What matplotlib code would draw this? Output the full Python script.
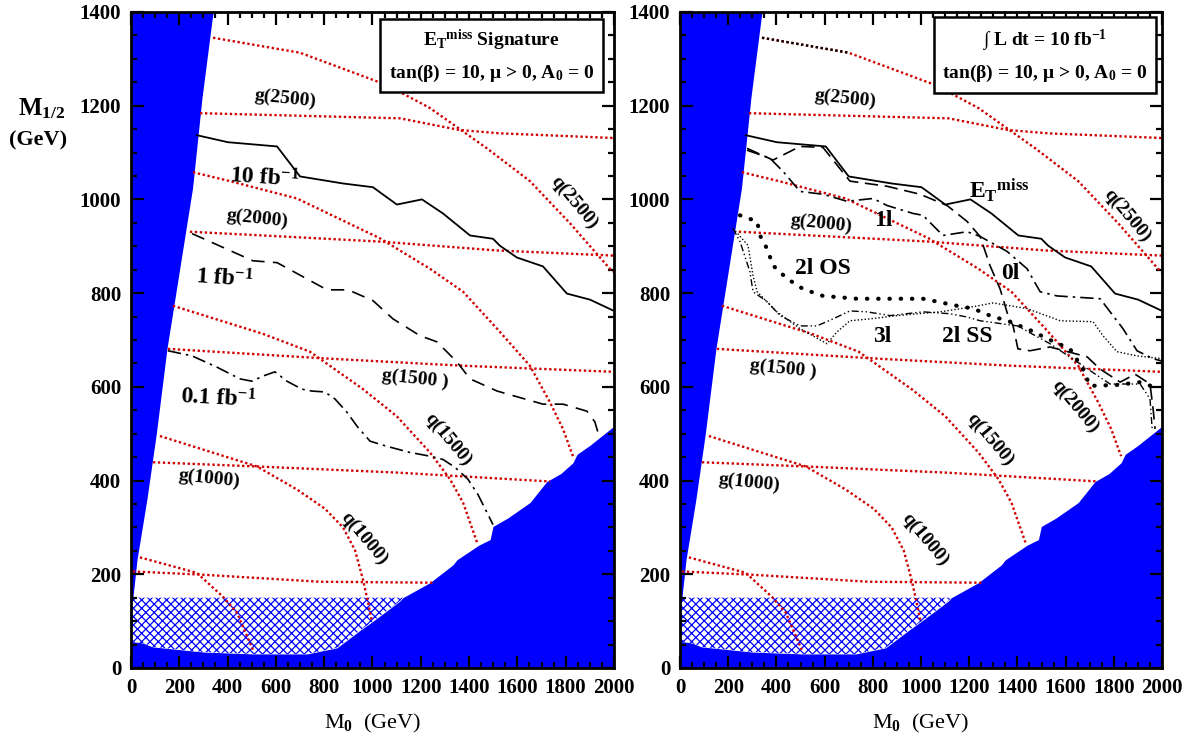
import matplotlib
matplotlib.use('Agg')
import matplotlib.pyplot as plt
from matplotlib.ticker import MultipleLocator

plt.rcParams['font.family'] = ['Liberation Serif', 'DejaVu Serif']
plt.rcParams['font.weight'] = 'bold'
plt.rcParams['mathtext.fontset'] = 'custom'
plt.rcParams['mathtext.rm'] = 'Liberation Serif:bold'
plt.rcParams['mathtext.it'] = 'Liberation Serif:bold:italic'
plt.rcParams['mathtext.bf'] = 'Liberation Serif:bold'
plt.rcParams['mathtext.default'] = 'rm'
plt.rcParams['hatch.linewidth'] = 0.9
plt.rcParams['hatch.color'] = '#0000ff'

BLUE = '#0000ff'
RED = '#d00000'

# excluded region on the left (theory), as M0 vs M1/2
wedge_m12 = [0, 50, 90, 150, 231, 360, 500, 681, 1024, 1216, 1400]
wedge_m0 = [45, 45, 12, 8, 25, 66, 105, 149, 255, 294, 340]

# lower boundary of the allowed region (hatch bottom + right excluded region)
low_m0 = [0, 50, 90, 300, 505, 730, 853, 948, 1000, 1114, 1126, 1238, 1333, 1350,
          1440, 1487, 1499, 1560, 1652, 1722, 1780, 1830, 1847, 1900, 2000]
low_m12 = [55, 53, 45, 34, 30, 30, 43, 80, 99, 143, 150, 182, 220, 231,
           262, 274, 302, 320, 353, 398, 415, 438, 456, 475, 516]
lep_m12 = 150

# squark / gluino mass contours
q500_m0 = [37, 273, 381, 439, 505]
q500_m12 = [236, 203, 152, 118, 39]
q1000_m0 = [120, 522, 687, 803, 878, 928, 961, 982, 998]
q1000_m12 = [495, 430, 381, 340, 300, 251, 188, 139, 98]
q1500_m0 = [174, 547, 741, 961, 1101, 1238, 1321, 1375, 1433]
q1500_m12 = [773, 713, 675, 595, 537, 460, 403, 353, 268]
q2000_m0 = [257, 410, 687, 1031, 1238, 1375, 1516, 1652, 1735, 1789, 1830]
q2000_m12 = [1058, 1039, 1002, 917, 852, 803, 724, 645, 567, 510, 452]
q2500_m0 = [340, 700, 1060, 1238, 1474, 1652, 1818, 1983, 2000]
q2500_m12 = [1345, 1313, 1244, 1195, 1109, 1039, 949, 852, 845]

g500_m0 = [8, 298, 783, 1250]
g500_m12 = [206, 199, 184, 182]
g1000_m0 = [91, 522, 1101, 1735]
g1000_m12 = [439, 430, 417, 398]
g1500_m0 = [153, 824, 1375, 2000]
g1500_m12 = [681, 660, 645, 632]
g2000_m0 = [244, 547, 1031, 1516, 2000]
g2000_m12 = [931, 923, 910, 891, 880]
g2500_m0 = [286, 1114, 1362, 1528, 2000]
g2500_m12 = [1184, 1173, 1148, 1141, 1131]

# left panel: E_T^miss reach for 10, 1, 0.1 fb^-1
r10_m0 = [273, 402, 605, 700, 878, 1002, 1101, 1205, 1292, 1404, 1499, 1528, 1598,
          1706, 1805, 1901, 2000]
r10_m12 = [1137, 1122, 1113, 1049, 1034, 1026, 989, 1000, 970, 923, 916, 901, 876,
           857, 799, 786, 762]
r1_m0 = [253, 505, 605, 812, 899, 1002, 1085, 1197, 1267, 1350, 1404, 1516, 1706,
         1789, 1888, 1921, 1942]
r1_m12 = [927, 869, 865, 807, 807, 784, 745, 709, 696, 653, 617, 591, 563,
          563, 548, 525, 488]
r01_m0 = [153, 253, 356, 451, 501, 547, 596, 646, 708, 749, 803, 845, 894, 936, 990,
          1060, 1155, 1238, 1292, 1342, 1395, 1437, 1499]
r01_m12 = [677, 666, 642, 617, 612, 623, 632, 612, 595, 591, 589, 574, 546, 516, 484,
           473, 460, 452, 445, 428, 403, 370, 306]

# right panel: reach by channel at 10 fb^-1
c0l_m0 = [278, 386, 498, 593, 705, 859, 996, 1108, 1191, 1245, 1286, 1328, 1361, 1382,
          1402, 1452, 1535, 1689, 1743, 1826, 1888, 1950, 1963, 1971]
c0l_m12 = [1109, 1084, 1113, 1111, 1039, 1028, 1011, 987, 953, 921, 859, 809, 752, 730,
           681, 677, 685, 664, 638, 610, 627, 606, 552, 510]
c1l_m0 = [278, 373, 427, 498, 593, 693, 801, 859, 967, 1008, 1091, 1191, 1245, 1357,
          1440, 1494, 1564, 1743, 1838, 1896, 1963, 2000]
c1l_m12 = [1105, 1088, 1060, 1017, 1011, 996, 1002, 987, 970, 966, 923, 931, 921, 889,
           852, 803, 794, 788, 724, 677, 660, 655]
os_m0 = [249, 320, 332, 361, 386, 444, 510, 593, 734, 871, 1008, 1149, 1216, 1286,
         1369, 1461, 1527, 1618, 1672, 1701, 1813, 1909, 1992]
os_m12 = [966, 953, 923, 895, 859, 831, 809, 794, 788, 788, 788, 773, 767, 752,
          739, 719, 702, 681, 638, 602, 604, 610, 595]
ss_m0 = [220, 282, 303, 320, 402, 498, 610, 651, 705, 788, 900, 1079, 1216, 1299,
         1440, 1577, 1714, 1755, 1813, 1896, 2000]
ss_m12 = [938, 902, 837, 803, 760, 724, 692, 717, 741, 745, 752, 760, 771, 779,
          767, 741, 739, 709, 675, 666, 660]
c3l_m0 = [220, 249, 290, 303, 361, 415, 498, 568, 635, 705, 776, 871, 1008, 1120,
          1191, 1245, 1400, 1535, 1660, 1784, 1909, 1950, 1959]
c3l_m12 = [938, 910, 846, 803, 782, 752, 730, 730, 745, 762, 760, 752, 760, 756,
           749, 741, 730, 692, 649, 606, 606, 574, 510]

fig = plt.figure(figsize=(11.98, 7.48), dpi=100)
ax1 = fig.add_axes([0.1093, 0.107, 0.4032, 0.877])
ax2 = fig.add_axes([0.5676, 0.107, 0.4024, 0.877])

dot = (0, (1, 1.1))


def draw_base(ax):
    ax.fill_between(low_m0, 0, low_m12, color=BLUE, lw=0, zorder=1)
    ax.fill_betweenx(wedge_m12, 0, wedge_m0, color=BLUE, lw=0, zorder=1)
    k = low_m12.index(lep_m12) + 1
    hx = low_m0[:k] + [0]
    hy = low_m12[:k] + [lep_m12]
    ax.fill(hx, hy, facecolor='white', edgecolor=BLUE, hatch='xxxx', lw=0, zorder=1)

    for xs, ys in [(q500_m0, q500_m12), (q1000_m0, q1000_m12), (q1500_m0, q1500_m12),
                   (q2000_m0, q2000_m12), (q2500_m0, q2500_m12),
                   (g500_m0, g500_m12), (g1000_m0, g1000_m12), (g1500_m0, g1500_m12),
                   (g2000_m0, g2000_m12), (g2500_m0, g2500_m12)]:
        ax.plot(xs, ys, color=RED, ls=dot, lw=1.7, zorder=2)

    ax.set_xlim(0, 2000)
    ax.set_ylim(0, 1400)
    ax.xaxis.set_major_locator(MultipleLocator(200))
    ax.xaxis.set_minor_locator(MultipleLocator(50))
    ax.yaxis.set_major_locator(MultipleLocator(200))
    ax.yaxis.set_minor_locator(MultipleLocator(50))
    ax.tick_params(which='both', direction='in', top=True, right=True, width=1.6,
                   labelsize=15, pad=7)
    ax.tick_params(which='major', length=9)
    ax.tick_params(which='minor', length=4.5)
    for s in ax.spines.values():
        s.set_linewidth(2)
    ax.set_xlabel('M$_0$  (GeV)', fontsize=16, labelpad=10)


def label(ax, x, y, s, rot=0, size=14):
    ax.text(x, y, s, ha='center', va='center', rotation=rot, fontsize=size,
            rotation_mode='anchor', zorder=5)


draw_base(ax1)
draw_base(ax2)

# left panel
ax1.plot(r10_m0, r10_m12, color='black', lw=1.3, zorder=3)
ax1.plot(r1_m0, r1_m12, color='black', lw=1.2, ls=(0, (8, 5)), zorder=3)
ax1.plot(r01_m0, r01_m12, color='black', lw=1.2, ls=(0, (8, 3, 1.5, 3)), zorder=3)

label(ax1, 638, 1216, 'g(2500)', -6)
label(ax1, 522, 959, 'g(2000)', -6)
label(ax1, 1176, 617, 'g(1500 )', -6)
label(ax1, 323, 403, 'g(1000)', -6)
label(ax1, 1834, 994, 'q(2500)', -50)
label(ax1, 1313, 488, 'q(1500)', -50)
label(ax1, 965, 276, 'q(1000)', -50)
label(ax1, 551, 1045, '10 fb$^{-1}$', -4, 17)
label(ax1, 389, 831, '1 fb$^{-1}$', -4, 17)
label(ax1, 360, 574, '0.1 fb$^{-1}$', -3, 17)

ax1.text(0.747, 0.933, 'E$_\\mathrm{T}$$^\\mathrm{miss}$ Signature\n'
         'tan(β) = 10, μ > 0, A$_0$ = 0',
         transform=ax1.transAxes, ha='center', va='center', fontsize=14,
         linespacing=1.6, zorder=6,
         bbox=dict(boxstyle='square,pad=0.45', facecolor='white', edgecolor='black', lw=1.8))

# right panel
ax2.plot(r10_m0, r10_m12, color='black', lw=1.3, zorder=3)
ax2.plot(c0l_m0, c0l_m12, color='black', lw=1.2, ls=(0, (8, 4)), zorder=3)
ax2.plot(c1l_m0, c1l_m12, color='black', lw=1.2, ls=(0, (8, 3, 1.5, 3)), zorder=3)
ax2.plot(os_m0, os_m12, color='black', lw=3, ls=(0, (0.1, 2.6)),
         dash_capstyle='round', zorder=3)
ax2.plot(ss_m0, ss_m12, color='black', lw=1, ls=(0, (1, 1.5)), zorder=3)
ax2.plot(c3l_m0, c3l_m12, color='black', lw=1, ls=(0, (5, 2, 1, 2, 1, 2)), zorder=3)
# dark dotted start of the top squark contour in this panel
ax2.plot(q2500_m0[:2], q2500_m12[:2], color='black', ls=dot, lw=1.7, zorder=3)

label(ax2, 685, 1216, 'g(2500)', -6)
label(ax2, 585, 949, 'g(2000)', -6)
label(ax2, 427, 638, 'g(1500 )', -6)
label(ax2, 286, 396, 'g(1000)', -6)
label(ax2, 1855, 966, 'q(2500)', -50)
label(ax2, 1639, 557, 'q(2000)', -50)
label(ax2, 1286, 488, 'q(1500)', -50)
label(ax2, 1017, 274, 'q(1000)', -50)
label(ax2, 842, 955, '1l', 0, 17)
label(ax2, 1325, 1019, 'E$_\\mathrm{T}$$^\\mathrm{miss}$', 0, 17)
label(ax2, 593, 852, '2l OS', 0, 17)
label(ax2, 1369, 842, '0l', 0, 17)
label(ax2, 838, 707, '3l', 0, 17)
label(ax2, 1191, 707, '2l SS', 0, 17)

ax2.text(0.757, 0.933, '∫ L dt = 10 fb$^{-1}$\n'
         'tan(β) = 10, μ > 0, A$_0$ = 0',
         transform=ax2.transAxes, ha='center', va='center', fontsize=14,
         linespacing=1.6, zorder=6,
         bbox=dict(boxstyle='square,pad=0.45', facecolor='white', edgecolor='black', lw=1.8))

fig.text(0.035, 0.855, 'M$_{1/2}$', ha='center', va='center', fontsize=18)
fig.text(0.032, 0.812, '(GeV)', ha='center', va='center', fontsize=16)

plt.savefig('out.png', dpi=100)
